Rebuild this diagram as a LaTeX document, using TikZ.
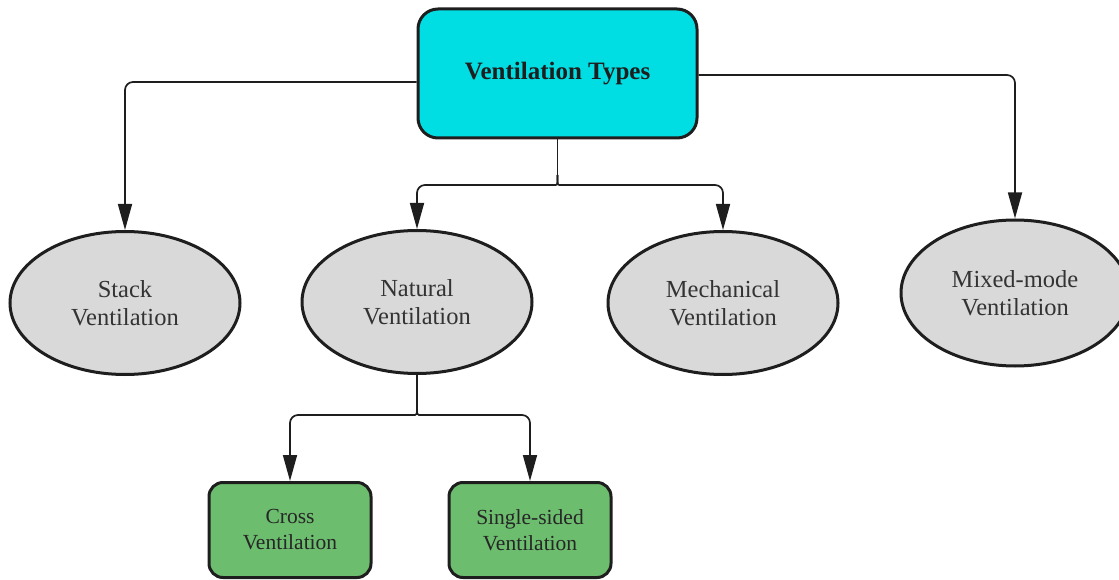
\documentclass[tikz,border=0pt]{standalone}
\usepackage{fontspec}
\setmainfont{Liberation Serif}
\usetikzlibrary{shapes.geometric,arrows.meta}
\definecolor{typecyan}{RGB}{0,222,228}
\definecolor{kindgray}{RGB}{217,217,217}
\definecolor{subgreen}{RGB}{108,189,110}
\definecolor{inkline}{RGB}{30,30,30}
\begin{document}
\begin{tikzpicture}[x=1pt,y=-1pt,
  root/.style={draw=inkline, line width=3pt, fill=typecyan, rounded corners=20pt,
    minimum width=279pt, minimum height=129pt,
    font=\fontsize{25}{29}\selectfont\bfseries, text=inkline},
  kind/.style={ellipse, draw=inkline, line width=3pt, fill=kindgray,
    minimum width=230pt, minimum height=143pt, inner sep=0pt, align=center,
    font=\fontsize{24.5}{28}\selectfont, text=black!80},
  sub/.style={draw=inkline, line width=3pt, fill=subgreen, rounded corners=14pt,
    minimum width=162pt, minimum height=95pt, inner sep=0pt, align=center,
    font=\fontsize{21.5}{26}\selectfont, text=black!85},
  link/.style={line width=1.7pt, draw=inkline, rounded corners=8pt},
  tip/.style={-{Triangle[length=26pt,width=14pt]}}
]
\useasboundingbox (0,0) rectangle (1119,580);

% root and the four kinds of ventilation
\node[root] (types) at (557.5,73.5) {Ventilation Types};
\node[kind] (stack) at (125,303) {Stack\\Ventilation};
\node[kind] (natural) at (417,302) {Natural\\Ventilation};
\node[kind] (mech) at (723,303) {Mechanical\\Ventilation};
\node[kind, minimum width=228pt, minimum height=146pt] (mixed) at (1015,293) {Mixed-mode\\Ventilation};

% sub-types of natural ventilation
\node[sub] (cross) at (290,530) {Cross\\Ventilation};
\node[sub] (single) at (530,530) {Single-sided\\Ventilation};

% outer branches
\draw[link,tip] ([yshift=-8.5pt]types.west) -| (stack.north);
\draw[link,tip] ([yshift=-1.5pt]types.east) -| (mixed.north);

% brace-shaped split below the root
\coordinate (split) at (557.5,175);
\draw[link] (types.south) -- (split);
\draw[link,tip] (split) .. controls (557.5,185) .. (568,185) -| (mech.north);
\draw[link,tip] (split) .. controls (557.5,185) .. (547,185) -| (natural.north);

% split below natural ventilation
\coordinate (nsplit) at (417,405);
\draw[link] (natural.south) -- (nsplit);
\draw[link,tip] (nsplit) .. controls (417,415) .. (407,415) -| (cross.north);
\draw[link,tip] (nsplit) .. controls (417,415) .. (427,415) -| (single.north);
\end{tikzpicture}
\end{document}
